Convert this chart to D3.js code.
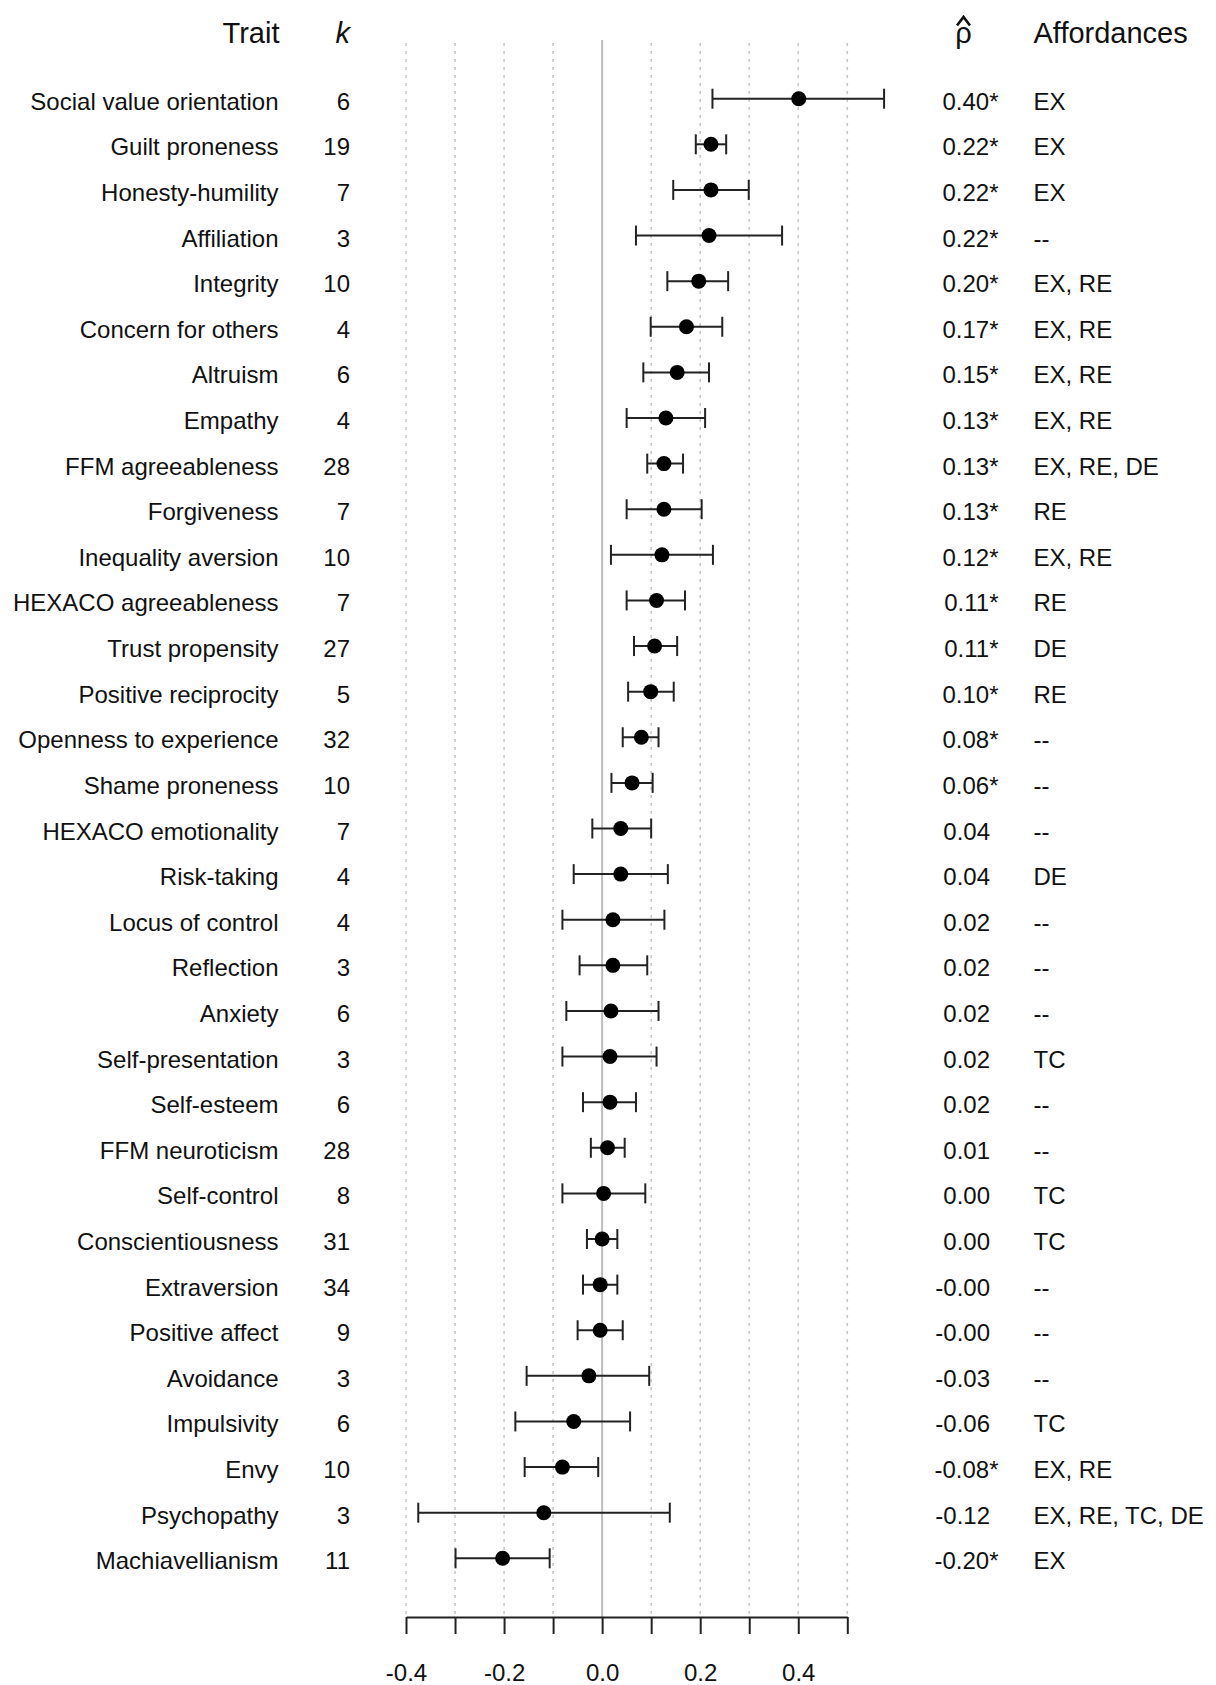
<!DOCTYPE html>
<html>
<head>
<meta charset="utf-8">
<script src="https://cdn.jsdelivr.net/npm/d3@7"></script>
<style>
  html, body { margin: 0; padding: 0; background: #fff; }
  svg { display: block; font-family: "Liberation Sans", Arial, sans-serif; }
</style>
</head>
<body>
<svg id="chart" width="1216" height="1685"></svg>
<script>
// Meta-analytic correlations of traits with prosocial behaviour
const traits = [
  "Social value orientation", "Guilt proneness", "Honesty-humility", "Affiliation",
  "Integrity", "Concern for others", "Altruism", "Empathy", "FFM agreeableness",
  "Forgiveness", "Inequality aversion", "HEXACO agreeableness", "Trust propensity",
  "Positive reciprocity", "Openness to experience", "Shame proneness",
  "HEXACO emotionality", "Risk-taking", "Locus of control", "Reflection", "Anxiety",
  "Self-presentation", "Self-esteem", "FFM neuroticism", "Self-control",
  "Conscientiousness", "Extraversion", "Positive affect", "Avoidance", "Impulsivity",
  "Envy", "Psychopathy", "Machiavellianism"
];
const kValues = [6, 19, 7, 3, 10, 4, 6, 4, 28, 7, 10, 7, 27, 5, 32, 10, 7, 4, 4, 3, 6, 3, 6, 28, 8, 31, 34, 9, 3, 6, 10, 3, 11];
const rho = [0.401, 0.222, 0.222, 0.218, 0.197, 0.172, 0.153, 0.130, 0.126, 0.126, 0.122, 0.111, 0.107,
  0.099, 0.080, 0.061, 0.038, 0.038, 0.022, 0.022, 0.018, 0.016, 0.016, 0.011, 0.003, 0.000,
  -0.004, -0.004, -0.027, -0.058, -0.081, -0.119, -0.203];
const ciLower = [0.225, 0.191, 0.145, 0.069, 0.133, 0.099, 0.084, 0.050, 0.092, 0.050, 0.018, 0.050, 0.065,
  0.053, 0.042, 0.019, -0.020, -0.058, -0.081, -0.046, -0.073, -0.081, -0.039, -0.023, -0.081, -0.031,
  -0.039, -0.050, -0.154, -0.177, -0.158, -0.375, -0.299];
const ciUpper = [0.575, 0.253, 0.299, 0.367, 0.257, 0.245, 0.218, 0.210, 0.165, 0.203, 0.226, 0.169, 0.153,
  0.146, 0.115, 0.103, 0.100, 0.134, 0.127, 0.092, 0.115, 0.111, 0.069, 0.046, 0.088, 0.031,
  0.031, 0.042, 0.096, 0.057, -0.008, 0.138, -0.107];
const significant = [1, 1, 1, 1, 1, 1, 1, 1, 1, 1, 1, 1, 1, 1, 1, 1, 0, 0, 0, 0, 0, 0, 0, 0, 0, 0, 0, 0, 0, 0, 1, 0, 1];
const affordances = ["EX", "EX", "EX", "--", "EX, RE", "EX, RE", "EX, RE", "EX, RE", "EX, RE, DE", "RE",
  "EX, RE", "RE", "DE", "RE", "--", "--", "--", "DE", "--", "--", "--", "TC", "--", "--", "TC", "TC",
  "--", "--", "--", "TC", "EX, RE", "EX, RE, TC, DE", "EX"];
const tickValues = [-4, -3, -2, -1, 0, 1, 2, 3, 4, 5].map(d => d / 10);
const labelledTicks = [-0.4, -0.2, 0, 0.2, 0.4];

const rows = traits.map((t, i) => ({
  trait: t, k: kValues[i], rho: rho[i], lo: ciLower[i], hi: ciUpper[i],
  sig: significant[i] === 1, aff: affordances[i]
}));

const fmt2 = v => (v < 0 ? "-" : "") + Math.abs(v).toFixed(2);
const fmt1 = v => (v < 0 ? "-" : "") + Math.abs(v).toFixed(1);

const svg = d3.select("#chart");
const textColor = "#111";

const x = d3.scaleLinear().domain([-0.4, 0.5]).range([406, 847.3]);
const y = d3.scalePoint().domain(traits).range([98.7, 1558.3]).padding(0);
const axisY = 1617;

// dotted vertical gridlines
svg.append("g").selectAll("line")
  .data(tickValues.filter(v => v !== 0))
  .join("line")
  .attr("x1", d => x(d)).attr("x2", d => x(d))
  .attr("y1", 43).attr("y2", axisY)
  .attr("stroke", "#c8c8c8").attr("stroke-width", 1.6)
  .attr("stroke-dasharray", "3,5");

// reference line at zero
svg.append("line")
  .attr("x1", x(0)).attr("x2", x(0))
  .attr("y1", 40).attr("y2", axisY)
  .attr("stroke", "#bdbdbd").attr("stroke-width", 2);

// bottom axis
const axis = d3.axisBottom(x)
  .tickValues(tickValues)
  .tickSize(17).tickSizeOuter(0).tickPadding(30)
  .tickFormat(d => labelledTicks.some(v => Math.abs(v - d) < 1e-9) ? fmt1(d) : "");
const gAxis = svg.append("g").attr("transform", `translate(0,${axisY})`).call(axis);
gAxis.select(".domain").attr("stroke", "#222").attr("stroke-width", 2);
gAxis.selectAll(".tick line").attr("stroke", "#222").attr("stroke-width", 2);
gAxis.selectAll(".tick text")
  .attr("fill", textColor)
  .attr("font-size", 24)
  .attr("font-family", "'Liberation Sans', Arial, sans-serif");

// confidence intervals with end caps
const ci = svg.append("g").attr("stroke", "#222").attr("stroke-width", 2);
ci.selectAll("line.bar").data(rows).join("line").attr("class", "bar")
  .attr("x1", d => x(d.lo)).attr("x2", d => x(d.hi))
  .attr("y1", d => y(d.trait)).attr("y2", d => y(d.trait));
ci.selectAll("line.capl").data(rows).join("line").attr("class", "capl")
  .attr("x1", d => x(d.lo)).attr("x2", d => x(d.lo))
  .attr("y1", d => y(d.trait) - 10).attr("y2", d => y(d.trait) + 10);
ci.selectAll("line.capu").data(rows).join("line").attr("class", "capu")
  .attr("x1", d => x(d.hi)).attr("x2", d => x(d.hi))
  .attr("y1", d => y(d.trait) - 10).attr("y2", d => y(d.trait) + 10);

// point estimates
svg.append("g").selectAll("circle").data(rows).join("circle")
  .attr("cx", d => x(d.rho)).attr("cy", d => y(d.trait))
  .attr("r", 7.5).attr("fill", "#000");

// text columns
const baseOff = 11;
const cols = svg.append("g").attr("fill", textColor).attr("font-size", 24);

cols.selectAll("text.trait").data(rows).join("text").attr("class", "trait")
  .attr("x", 278.5).attr("y", d => y(d.trait) + baseOff)
  .attr("text-anchor", "end").text(d => d.trait);

cols.selectAll("text.k").data(rows).join("text").attr("class", "k")
  .attr("x", 350).attr("y", d => y(d.trait) + baseOff)
  .attr("text-anchor", "end").text(d => d.k);

cols.selectAll("text.rho").data(rows).join("text").attr("class", "rho")
  .attr("x", d => d.sig ? 998.5 : 990).attr("y", d => y(d.trait) + baseOff)
  .attr("text-anchor", "end").text(d => fmt2(d.rho) + (d.sig ? "*" : ""));

cols.selectAll("text.aff").data(rows).join("text").attr("class", "aff")
  .attr("x", 1033.5).attr("y", d => y(d.trait) + baseOff)
  .attr("text-anchor", "start").text(d => d.aff);

// column headers
const head = svg.append("g").attr("fill", textColor).attr("font-size", 29);
head.append("text").attr("x", 279.5).attr("y", 43).attr("text-anchor", "end").text("Trait");
head.append("text").attr("x", 350).attr("y", 43).attr("text-anchor", "end")
  .attr("font-style", "italic").text("k");
head.append("text").attr("x", 963.5).attr("y", 43).attr("text-anchor", "middle").text("ρ");
head.append("text").attr("x", 1033.5).attr("y", 43).attr("text-anchor", "start").text("Affordances");

// estimate hat over rho
svg.append("path")
  .attr("d", d3.line()([[957, 25.5], [963.5, 17], [970, 25.5]]))
  .attr("fill", "none").attr("stroke", textColor).attr("stroke-width", 2.6)
  .attr("stroke-linejoin", "miter");
</script>
</body>
</html>
